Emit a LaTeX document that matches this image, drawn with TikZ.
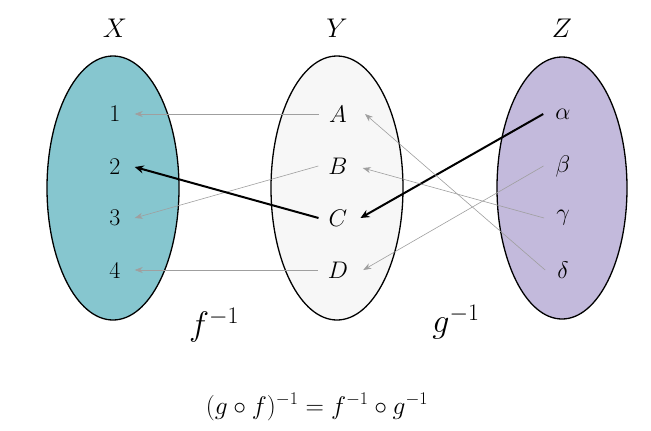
\RequirePackage{fix-cm}
\documentclass[tikz,border=0pt]{standalone}
\usetikzlibrary{arrows.meta}
\begin{document}
\begin{tikzpicture}[x=1pt,y=-1pt,
  setell/.style={draw=black,line width=1.3pt},
  elem/.style={font=\fontsize{24}{27}\selectfont,inner sep=0pt},
  setlab/.style={font=\fontsize{27}{30}\selectfont},
  thin/.style={draw=gray!75,line width=0.6pt,-{Stealth[length=8pt,width=6pt]}},
  thick/.style={draw=black,line width=2pt,-{Stealth[length=9pt,width=8pt]}},
  funlab/.style={font=\fontsize{34}{38}\selectfont}]
\useasboundingbox (0,0) rectangle (651,431);
% sets
\draw[setell,fill={rgb,255:red,134;green,198;blue,207}] (113,188) ellipse (66 and 132);
\draw[setell,fill={rgb,255:red,247;green,247;blue,247}] (337,188) ellipse (66 and 132);
\draw[setell,fill={rgb,255:red,195;green,186;blue,220}] (562,188) ellipse (65 and 131);
% set labels
\node[setlab] (lx) at (115,28) {$X$};
\node[setlab] (ly) at (337,28) {$Y$};
\node[setlab] (lz) at (562,28) {$Z$};
% elements
\node[elem] (x1) at (115,114) {1};
\node[elem] (x2) at (115,167) {2};
\node[elem] (x3) at (115,218) {3};
\node[elem] (x4) at (115,270) {4};
\node[elem] (yA) at (338,114) {$A$};
\node[elem] (yB) at (338,166) {$B$};
\node[elem] (yC) at (338,218) {$C$};
\node[elem] (yD) at (338,270) {$D$};
\node[elem] (za) at (563,114) {$\alpha$};
\node[elem] (zb) at (563,166) {$\beta$};
\node[elem] (zc) at (563,218) {$\gamma$};
\node[elem] (zd) at (563,270) {$\delta$};
% f^{-1}
\draw[thin] ([xshift=-10pt]yA.west) -- ([xshift=14pt]x1.east);
\draw[thin] ([xshift=-10pt]yB.west) -- ([xshift=14pt]x3.east);
\draw[thick] ([xshift=-10pt]yC.west) -- ([xshift=14pt]x2.east);
\draw[thin] ([xshift=-10pt]yD.west) -- ([xshift=14pt]x4.east);
% g^{-1}
\draw[thick] ([xshift=-12pt]za.west) -- ([xshift=13pt]yC.east);
\draw[thin] ([xshift=-12pt]zb.west) -- ([xshift=15pt]yD.east);
\draw[thin] ([xshift=-12pt]zc.west) -- ([xshift=15pt,yshift=-2pt]yB.east);
\draw[thin] ([xshift=-12pt]zd.west) -- ([xshift=18pt]yA.east);
% function labels
\node[funlab] (f) at (214,325) {$f^{-1}$};
\node[funlab] (g) at (456,322) {$g^{-1}$};
\node[font=\fontsize{25.5}{28}\selectfont] (eq) at (317,407) {$(g\circ f)^{-1}=f^{-1}\circ g^{-1}$};
\end{tikzpicture}
\end{document}
